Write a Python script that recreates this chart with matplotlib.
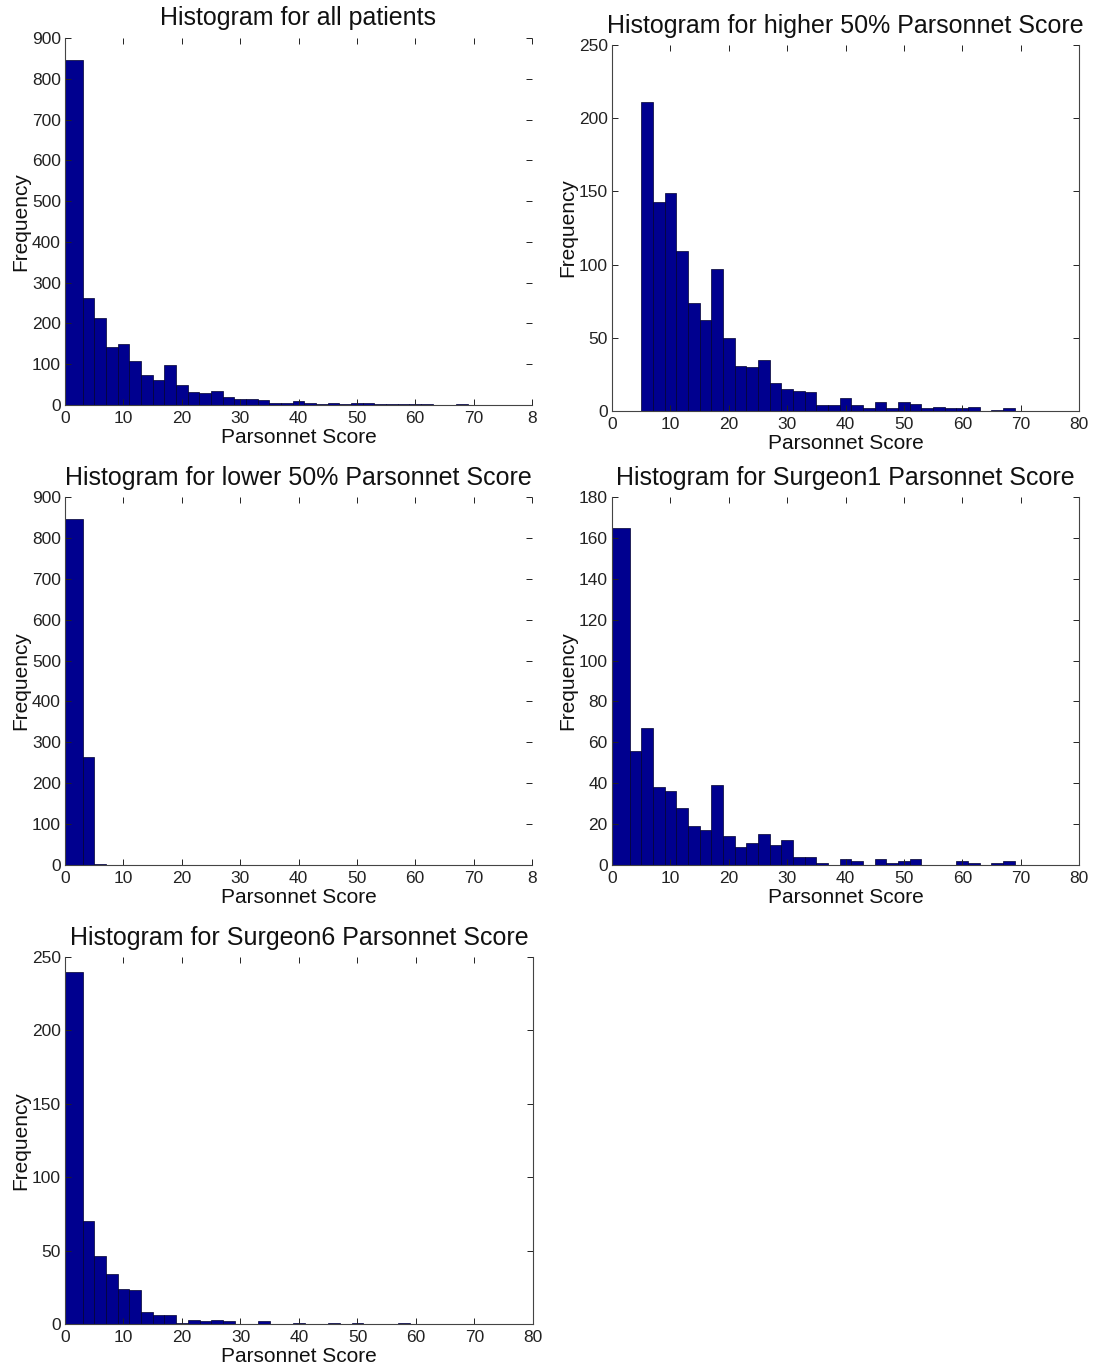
import numpy as np
import matplotlib
matplotlib.use("Agg")
import matplotlib.pyplot as plt

plt.rcParams['font.family'] = ['Liberation Sans', 'DejaVu Sans']

# bin edges: first bin spans -1..3, the rest are 2 wide up to 69
bin_edges = [-1] + list(range(3, 71, 2))

counts_all = [845, 263, 213, 143, 149, 109, 74, 62, 97, 50, 31, 30, 35, 19, 15, 14, 13,
              4, 4, 9, 4, 2, 6, 2, 6, 5, 2, 3, 2, 2, 3, 0, 1, 2]
counts_high = [0, 0, 211, 143, 149, 109, 74, 62, 97, 50, 31, 30, 35, 19, 15, 14, 13,
               4, 4, 9, 4, 2, 6, 2, 6, 5, 2, 3, 2, 2, 3, 0, 1, 2]
counts_low = [845, 263, 2, 0, 0, 0, 0, 0, 0, 0, 0, 0, 0, 0, 0, 0, 0,
              0, 0, 0, 0, 0, 0, 0, 0, 0, 0, 0, 0, 0, 0, 0, 0, 0]
counts_s1 = [165, 56, 67, 38, 36, 28, 19, 17, 39, 14, 9, 11, 15, 10, 12, 4, 4,
             1, 0, 3, 2, 0, 3, 1, 2, 3, 0, 0, 0, 2, 1, 0, 1, 2]
counts_s6 = [240, 70, 46, 34, 24, 23, 8, 6, 6, 1, 3, 2, 3, 2, 0, 0, 2,
             0, 0, 1, 0, 0, 1, 0, 1, 0, 0, 0, 1, 0, 0, 0, 0, 0]

titles = ["Histogram for all patients",
          "Histogram for higher 50% Parsonnet Score",
          "Histogram for lower 50% Parsonnet Score",
          "Histogram for Surgeon1 Parsonnet Score",
          "Histogram for Surgeon6 Parsonnet Score"]
x_ticks = list(range(0, 90, 10))
x_labels_cut = ["0", "10", "20", "30", "40", "50", "60", "70", "8"]
x_labels_full = [str(t) for t in x_ticks]

W, H = 1096, 1367
fig = plt.figure(figsize=(W / 100, H / 100), dpi=100)

def make_axes(x0, x1, ytop, ybot):
    return fig.add_axes([x0 / W, 1 - ybot / H, (x1 - x0) / W, (ybot - ytop) / H])

panels = [
    (make_axes(65, 532, 38, 405), counts_all, 900, 100, False, x_labels_cut),
    (make_axes(612, 1079, 45, 411), counts_high, 250, 50, True, x_labels_full),
    (make_axes(65, 532, 497, 865), counts_low, 900, 100, False, x_labels_cut),
    (make_axes(612, 1079, 497, 865), counts_s1, 180, 20, True, x_labels_full),
    (make_axes(65, 533, 957, 1324), counts_s6, 250, 50, True, x_labels_full),
]

edges = np.array(bin_edges, dtype=float)
for (ax, counts, ymax, ystep, right_spine, xlabels), title in zip(panels, titles):
    ax.bar(edges[:-1], counts, width=np.diff(edges), align='edge',
           color='#00008f', edgecolor='#000030', linewidth=0.5)
    ax.set_xlim(0, 80)
    ax.set_ylim(0, ymax)
    ax.set_xticks(x_ticks)
    ax.set_xticklabels(xlabels)
    ax.set_yticks(np.arange(0, ymax + 1, ystep))
    ax.tick_params(direction='in', length=4, width=0.7, top=True, right=True,
                   labelsize=12.5, pad=3, colors='#222222')
    ax.tick_params(axis='x', pad=4)
    ax.spines['top'].set_visible(False)
    ax.spines['right'].set_visible(right_spine)
    for s in ax.spines.values():
        s.set_linewidth(0.8)
        s.set_color('#444444')
    ax.set_title(title, fontsize=18, pad=9, color='#111111')
    ax.set_xlabel("Parsonnet Score", fontsize=15, labelpad=2, color='#111111')
    ax.set_ylabel("Frequency", fontsize=15, labelpad=1, color='#111111')

fig.savefig("out.png", dpi=100, facecolor='white')
